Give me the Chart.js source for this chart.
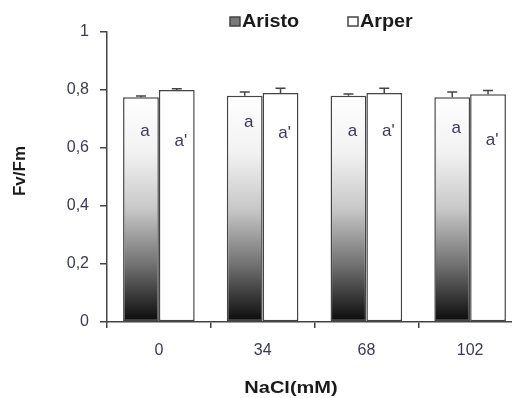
<!DOCTYPE html>
<html>
    <head>
        <meta charset="utf-8">
        <script src="https://cdn.jsdelivr.net/npm/chart.js"></script>
        <title>Fv/Fm NaCl</title>
        <style>
            body { margin: 0; overflow: hidden; background: #fff; }
            #wrap { width: 512px; height: 398px; overflow: hidden; }
        </style>
    </head>
    <body>
        <div id="wrap">
            <canvas id="chart" width="530" height="398"></canvas>
        </div>

        <script>
        const categories = ['0', '34', '68', '102'];
        const aristo = [0.775, 0.780, 0.780, 0.775];
        const arper = [0.800, 0.790, 0.790, 0.785];
        const aristoErr = [0.004, 0.013, 0.006, 0.018];
        const arperErr = [0.004, 0.016, 0.016, 0.013];
        const aristoLetters = ['a', 'a', 'a', 'a'];
        const arperLetters = ["a'", "a'", "a'", "a'"];
        const aristoLetterY = [0.656, 0.688, 0.656, 0.667];
        const arperLetterY = [0.624, 0.650, 0.656, 0.627];
        const yTicks = [0, 0.2, 0.4, 0.6, 0.8, 1];

        const textColor = '#3a3a55';
        const lineColor = '#444';
        const font = '"Liberation Sans", Arial, sans-serif';

        function aristoFill(context) {
            const area = context.chart.chartArea;
            if (!area) return '#888';
            const g = context.chart.ctx.createLinearGradient(0, area.bottom, 0, context.chart.scales.y.getPixelForValue(0.78));
            g.addColorStop(0, '#0a0a0a');
            g.addColorStop(0.25, '#707070');
            g.addColorStop(0.5, '#c8c8c8');
            g.addColorStop(0.75, '#f2f2f2');
            g.addColorStop(1, '#ffffff');
            return g;
        }

        // draws text squeezed/stretched horizontally like the source image
        function wideText(ctx, text, x, y, sx) {
            ctx.save();
            ctx.translate(x, y);
            ctx.scale(sx, 1);
            ctx.fillText(text, 0, 0);
            ctx.restore();
        }

        const extras = {
            id: 'extras',
            afterDatasetsDraw(chart) {
                const ctx = chart.ctx;
                const y = chart.scales.y;
                const errs = [aristoErr, arperErr];
                const letters = [aristoLetters, arperLetters];
                const letterY = [aristoLetterY, arperLetterY];
                ctx.save();
                chart.data.datasets.forEach((ds, d) => {
                    chart.getDatasetMeta(d).data.forEach((bar, i) => {
                        // error bar (upper half only)
                        const top = y.getPixelForValue(ds.data[i] + errs[d][i]);
                        ctx.strokeStyle = lineColor;
                        ctx.lineWidth = 1.5;
                        ctx.beginPath();
                        ctx.moveTo(bar.x, bar.y);
                        ctx.lineTo(bar.x, top);
                        ctx.moveTo(bar.x - 5, top);
                        ctx.lineTo(bar.x + 5, top);
                        ctx.stroke();
                        // significance letter
                        ctx.fillStyle = textColor;
                        ctx.font = '17px ' + font;
                        ctx.textAlign = 'center';
                        ctx.textBaseline = 'middle';
                        ctx.fillText(letters[d][i], bar.x + 4, y.getPixelForValue(letterY[d][i]));
                    });
                });
                // axis titles
                ctx.fillStyle = '#1a1a1a';
                ctx.font = 'bold 16px ' + font;
                ctx.textAlign = 'center';
                ctx.textBaseline = 'middle';
                wideText(ctx, 'NaCl(mM)', 291, 389, 1.25);
                ctx.translate(20, 171);
                ctx.rotate(-Math.PI / 2);
                ctx.font = 'bold 17px ' + font;
                ctx.fillText('Fv/Fm', 0, 0);
                ctx.restore();
            }
        };

        new Chart(document.getElementById('chart'), {
            type: 'bar',
            data: {
                labels: categories,
                datasets: [{
                    label: 'Aristo',
                    data: aristo,
                    backgroundColor: aristoFill,
                    borderColor: lineColor,
                    borderWidth: 1.5,
                    borderSkipped: false
                }, {
                    label: 'Arper',
                    data: arper,
                    backgroundColor: '#ffffff',
                    borderColor: lineColor,
                    borderWidth: 1.5,
                    borderSkipped: false
                }]
            },
            options: {
                responsive: false,
                animation: false,
                layout: { padding: { top: 32, right: 8, left: 0, bottom: 0 } },
                datasets: { bar: { categoryPercentage: 0.69, barPercentage: 1 } },
                plugins: {
                    legend: { display: false },
                    tooltip: { enabled: false }
                },
                scales: {
                    x: {
                        afterFit(scale) { scale.height = 76; },
                        grid: { drawOnChartArea: false, color: lineColor, lineWidth: 1.5, tickLength: 6 },
                        border: { color: lineColor, width: 1.5 },
                        ticks: { color: textColor, padding: 13, font: { size: 16, family: font } }
                    },
                    y: {
                        min: 0,
                        max: 1,
                        afterFit(scale) { scale.width = 107; },
                        afterBuildTicks(scale) { scale.ticks = yTicks.map(v => ({ value: v })); },
                        grid: { drawOnChartArea: false, color: lineColor, lineWidth: 1.5, tickLength: 7 },
                        border: { color: lineColor, width: 1.5 },
                        ticks: {
                            color: textColor,
                            padding: 11,
                            font: { size: 16, family: font },
                            callback: v => String(v).replace('.', ',')
                        }
                    }
                }
            },
            plugins: [extras, {
                id: 'legendBoxes',
                afterDraw(chart) {
                    const ctx = chart.ctx;
                    const items = [
                        { text: chart.data.datasets[0].label, box: 230, fill: '#7a7a7a' },
                        { text: chart.data.datasets[1].label, box: 348, fill: '#ffffff' }
                    ];
                    ctx.save();
                    ctx.font = 'bold 18px ' + font;
                    ctx.textBaseline = 'middle';
                    ctx.textAlign = 'left';
                    items.forEach(it => {
                        ctx.fillStyle = it.fill;
                        ctx.strokeStyle = lineColor;
                        ctx.lineWidth = 1.5;
                        ctx.fillRect(it.box, 17, 10, 9);
                        ctx.strokeRect(it.box, 17, 10, 9);
                        ctx.fillStyle = '#1a1a1a';
                        wideText(ctx, it.text, it.box + 12, 22, 1.1);
                    });
                    ctx.restore();
                }
            }]
        });
        </script>
    </body>
</html>
